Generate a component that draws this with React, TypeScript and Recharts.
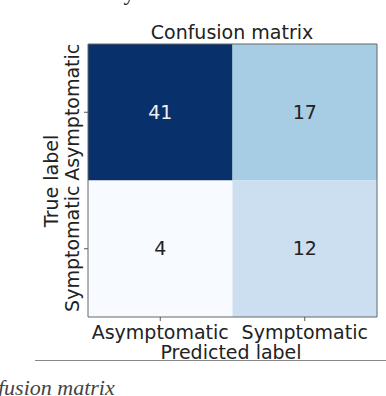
import { ScatterChart, XAxis, YAxis, ReferenceArea, Label } from 'recharts';

const predictedLabels = ['Asymptomatic', 'Symptomatic'];
const trueLabels = ['Asymptomatic', 'Symptomatic'];
const asymptomaticRow = [41, 17];
const symptomaticRow = [4, 12];
const rows = [asymptomaticRow, symptomaticRow];

// matplotlib "Blues"
const BLUES = ['#f7fbff', '#deebf7', '#c6dbef', '#9ecae1', '#6baed6', '#4292c6', '#2171b5', '#08519c', '#08306b'];
const FONT = '"DejaVu Sans", sans-serif';
const FS = 19;

function hex(c: string) {
  return [1, 3, 5].map(i => parseInt(c.slice(i, i + 2), 16));
}

function blues(t: number): string {
  const p = Math.max(0, Math.min(1, t)) * (BLUES.length - 1);
  const i = Math.min(Math.floor(p), BLUES.length - 2);
  const f = p - i;
  const a = hex(BLUES[i]);
  const b = hex(BLUES[i + 1]);
  const rgb = a.map((v, k) => Math.round(v + (b[k] - v) * f));
  return `rgb(${rgb.join(',')})`;
}

const allVals = rows.flat();
const vMin = Math.min(...allVals);
const vMax = Math.max(...allVals);

const cells = rows.flatMap((row, r) =>
  row.map((v, c) => ({ r, c, v, t: (v - vMin) / (vMax - vMin) }))
);

function XTick({ x, y, payload }: any) {
  const idx = Math.floor(payload.value);
  return (
    <text x={x} y={y} dy={15.5} textAnchor="middle" fontFamily={FONT} fontSize={FS} fill="#222">
      {predictedLabels[idx]}
    </text>
  );
}

function YTick({ x, y, payload }: any) {
  const idx = Math.floor(payload.value);
  const bx = x - 3;
  return (
    <text x={bx} y={y} textAnchor="middle" transform={`rotate(-90, ${bx}, ${y})`} fontFamily={FONT} fontSize={FS} fill="#222">
      {trueLabels[idx]}
    </text>
  );
}

export default function App() {
  return (
    <div style={{ position: 'absolute', left: 0, top: 0, width: 386, height: 396, overflow: 'hidden', background: '#fff' }}>
      <svg width={386} height={396} style={{ position: 'absolute', left: 0, top: 0 }}>
        <text x={303} y={0} textAnchor="end" fontFamily='"Liberation Serif", serif' fontSize={23} fill="#222">
          summary confusion matrix.
        </text>
        <text x={232} y={39} textAnchor="middle" fontFamily={FONT} fontSize={FS} fill="#222">
          Confusion matrix
        </text>
        <line x1={35} x2={386} y1={360.5} y2={360.5} stroke="#888" strokeWidth={1} />
        <text x={-2} y={395} fontFamily='"Liberation Serif", serif' fontStyle="italic" fontSize={22} fill="#444">
          fusion matrix
        </text>
      </svg>
      <div style={{ position: 'absolute', left: 0, top: 0 }}>
        <ScatterChart width={386} height={396} margin={{ top: 44, right: 9, bottom: 49, left: 38 }}>
          <XAxis
            type="number"
            dataKey="x"
            domain={[0, 2]}
            ticks={[0.5, 1.5]}
            height={30}
            tickSize={4}
            tickMargin={2}
            tick={<XTick />}
            tickLine={{ stroke: '#555' }}
            axisLine={false}
            allowDataOverflow
          >
            <Label
              content={() => (
                <text x={231} y={359} textAnchor="middle" fontFamily={FONT} fontSize={FS} fill="#222">
                  Predicted label
                </text>
              )}
            />
          </XAxis>
          <YAxis
            type="number"
            dataKey="y"
            domain={[0, 2]}
            ticks={[0.5, 1.5]}
            reversed
            width={50}
            tickSize={4}
            tickMargin={2}
            tick={<YTick />}
            tickLine={{ stroke: '#555' }}
            axisLine={false}
            allowDataOverflow
          >
            <Label
              content={() => (
                <text x={58} y={181} textAnchor="middle" transform="rotate(-90, 58, 181)" fontFamily={FONT} fontSize={FS} fill="#222">
                  True label
                </text>
              )}
            />
          </YAxis>
          {cells.map(cell => (
            <ReferenceArea
              key={`${cell.r}-${cell.c}`}
              x1={cell.c}
              x2={cell.c + 1}
              y1={cell.r}
              y2={cell.r + 1}
              fill={blues(cell.t)}
              fillOpacity={1}
              stroke="none"
              ifOverflow="visible"
            >
              <Label
                value={String(cell.v)}
                position="center"
                fontFamily={FONT}
                fontSize={FS}
                fill={cell.t > 0.5 ? '#f0f0f0' : '#222'}
              />
            </ReferenceArea>
          ))}
          <ReferenceArea x1={0} x2={2} y1={0} y2={2} fill="none" stroke="#666" strokeWidth={1} ifOverflow="visible" />
        </ScatterChart>
      </div>
    </div>
  );
}
